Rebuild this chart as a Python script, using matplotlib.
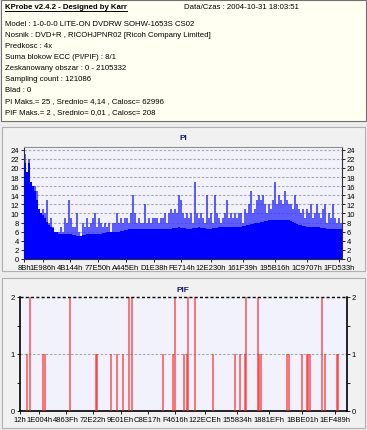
import numpy as np
import matplotlib
matplotlib.use('Agg')
import matplotlib.pyplot as plt
from matplotlib.patches import Rectangle
from matplotlib.lines import Line2D
from matplotlib.ticker import MultipleLocator

# ---------------- data ----------------
header_title = "KProbe v2.4.2 - Designed by Karr"
header_date = "Data/Czas : 2004-10-31 18:03:51"
header_lines = [
    "Model : 1-0-0-0 LITE-ON DVDRW SOHW-1653S CS02",
    "Nosnik : DVD+R , RICOHJPNR02 [Ricoh Company Limited]",
    "Predkosc : 4x",
    "Suma blokow ECC (PI/PIF) : 8/1",
    "Zeskanowany obszar : 0 - 2105332",
    "Sampling count : 121086",
    "Blad : 0",
    "PI Maks.= 25 , Srednio= 4,14 , Calosc= 62996",
    "PIF Maks.= 2 , Srednio= 0,01 , Calosc= 208",
]
scan_end = 2105332

pi_ticklabels = ["8Bh", "1E986h", "4B144h", "77E50h", "A445Eh", "D1E38h", "FE714h",
                 "12E230h", "161F39h", "195B16h", "1C9707h", "1FD533h"]
pif_ticklabels = ["12h", "1E004h", "4863Fh", "72E22h", "9E01Eh", "C8E17h", "F4616h",
                  "122ECEh", "155834h", "1881EFh", "1BBE01h", "1EF489h"]

# PI peak values, evenly spaced samples across the scanned area
pi_max = [23, 19, 22, 17, 16, 16, 15, 11, 10, 11, 10, 13, 8, 9, 7, 6,
          6, 6, 7, 6, 9, 8, 13, 9, 7, 7, 10, 6, 5, 8, 7, 9,
          7, 8, 9, 10, 7, 9, 8, 7, 8, 7, 8, 6, 8, 8, 10, 8,
          9, 8, 9, 9, 8, 10, 14, 10, 8, 9, 8, 8, 12, 8, 9, 8,
          9, 9, 9, 8, 9, 9, 10, 8, 10, 11, 10, 11, 10, 14, 13, 10,
          9, 10, 9, 10, 8, 17, 10, 9, 10, 9, 8, 14, 9, 10, 8, 14,
          10, 9, 8, 9, 10, 13, 9, 10, 9, 10, 9, 10, 10, 8, 11, 10,
          12, 15, 10, 11, 13, 14, 13, 14, 12, 10, 12, 11, 13, 17, 12, 14,
          13, 12, 15, 13, 12, 12, 11, 14, 12, 11, 10, 11, 9, 11, 10, 12,
          9, 10, 12, 10, 9, 11, 12, 8, 10, 9, 12, 9, 8, 9, 8]
# PI solid floor level, one value per group of 5 samples
pi_floor = [21, 11, 7.5, 5.5, 5.5, 5, 5.5, 5.5, 6, 6, 6.5, 6.5, 6.5, 6.5, 6.5, 7,
            6.5, 7, 6.5, 7, 7, 7, 7.5, 8, 8.5, 8.5, 8.5, 7.5, 7, 7, 6.5, 6.5]

# PIF events (LBA, value)
pif_lba = [47200, 64380, 150200, 160960, 321900, 489300, 493600, 583700, 626700,
           665300, 699600, 718900, 922800, 987200, 997900, 1058000, 1077300,
           1083800, 1126700, 1244700, 1384200, 1416400, 1448600, 1455000,
           1534500, 1540900, 1551600, 1721200, 1729700, 1813500, 1845700,
           1856400, 1867100, 1946500, 1963700, 2038800, 2049500]
pif_val = [1, 2, 1, 1, 2, 1, 1, 1, 1,
           1, 2, 2, 1, 1, 2, 1, 1,
           2, 2, 1, 1, 1, 1, 2,
           2, 1, 1, 1, 1, 1, 1,
           1, 1, 2, 1, 1, 1]

# ---------------- figure ----------------
W, H = 367, 431
fig = plt.figure(figsize=(W / 100, H / 100), dpi=100)
fig.patch.set_facecolor('#ECECEC')
plt.rcParams['font.family'] = ['Liberation Sans Narrow', 'Liberation Sans', 'DejaVu Sans']


def fx(x):
    return x / W


def fy(y):
    return 1 - y / H


def panel(x0, y0, x1, y1, fc, ec):
    fig.patches.append(Rectangle((fx(x0), fy(y1)), (x1 - x0) / W, (y1 - y0) / H,
                                 transform=fig.transFigure, facecolor=fc,
                                 edgecolor=ec, lw=0.8, zorder=-5))


panel(0.5, 0.5, 366, 122, '#FFFFF2', '#707070')
panel(2, 128, 365, 272, '#F1F1F1', '#B0B0B0')
panel(2, 279, 365, 429, '#F1F1F1', '#B0B0B0')

fs_h = 5.6
t = fig.text(fx(5), fy(7.5), header_title, fontsize=fs_h, fontweight='bold',
             va='center', ha='left', color='#000000')
fig.canvas.draw()
bb = t.get_window_extent(renderer=fig.canvas.get_renderer())
fig.lines.append(Line2D([bb.x0 / W, bb.x1 / W], [fy(11.5), fy(11.5)],
                        transform=fig.transFigure, color='black', lw=0.7))
fig.text(fx(184), fy(7.5), header_date, fontsize=fs_h, va='center', ha='left')
for i, s in enumerate(header_lines):
    fig.text(fx(5), fy(25 + i * 10.9), s, fontsize=fs_h, va='center', ha='left')

tick_fs = 5.5

# ---------------- PI ----------------
ax1 = fig.add_axes([fx(24), fy(260), 318 / W, 112 / H])
ax1.set_zorder(5)
ax1.set_facecolor('#F2F2FC')
n = len(pi_max)
step = scan_end / n
xs = (np.arange(n) + 0.5) * step
pmax = np.array(pi_max, dtype=float)
group_centers = (np.arange(len(pi_floor)) * 5 + 2) * step + 0.5 * step
floor = np.interp(xs, group_centers, pi_floor)
solid = np.minimum(pmax, floor)
ax1.bar(xs, pmax, width=step * 0.7, color='#3838FF', linewidth=0, zorder=2, alpha=0.8)
ax1.bar(xs, solid, width=step * 1.02, color='#0000FF', linewidth=0, zorder=3)
ax1.set_xlim(0, scan_end)
ax1.set_ylim(0, 24.6)
ax1.set_yticks(np.arange(0, 25, 2))
ax1.yaxis.grid(True, linestyle=(0, (2.2, 1.6)), color='#A8A8A8', lw=0.8, zorder=1)
ax1.set_axisbelow(True)
ax1.set_xticks([int(s[:-1], 16) for s in pi_ticklabels])
ax1.set_xticklabels(pi_ticklabels)
ax1.tick_params(axis='both', labelsize=tick_fs, length=2, width=0.6, pad=1.5,
                colors='#000000')
ax1.tick_params(axis='y', right=True, labelright=True)
for sp in ax1.spines.values():
    sp.set_color('#303030')
    sp.set_linewidth(0.8)
ax1.spines['top'].set_color('#909090')
fig.text(fx(183), fy(139), "PI", fontsize=6, fontweight='bold', color='#1A1A80',
         ha='center', va='center')

# ---------------- PIF ----------------
ax2 = fig.add_axes([fx(20), fy(412), 327 / W, 114 / H])
ax2.set_zorder(5)
ax2.set_facecolor('#F2F2FC')
ax2.vlines(pif_lba, 0, pif_val, colors='#FF2020', lw=1.2, alpha=0.7, zorder=3)
ax2.set_xlim(0, scan_end)
ax2.set_ylim(0, 2)
ax2.set_yticks([0, 1, 2])
ax2.yaxis.set_minor_locator(MultipleLocator(0.5))
ax2.axhline(1, color='#A8A8A8', lw=0.8, linestyle=(0, (2.2, 1.6)), zorder=1)
ax2.axhline(2, color='#000000', lw=1.0, linestyle=(0, (2.2, 1.6)), zorder=4, clip_on=False)
ax2.set_xticks([int(s[:-1], 16) for s in pif_ticklabels])
ax2.set_xticklabels(pif_ticklabels)
ax2.tick_params(axis='both', which='both', labelsize=tick_fs, length=2, width=0.6,
                pad=1.5, colors='#000000')
ax2.tick_params(axis='y', which='both', right=True, labelright=True)
for sp in ax2.spines.values():
    sp.set_color('#000000')
    sp.set_linewidth(1.2)
ax2.spines['top'].set_visible(False)
fig.text(fx(183), fy(291), "PIF", fontsize=6, fontweight='bold', color='#1A1A80',
         ha='center', va='center')

fig.savefig('out.png', dpi=100, facecolor=fig.get_facecolor())
